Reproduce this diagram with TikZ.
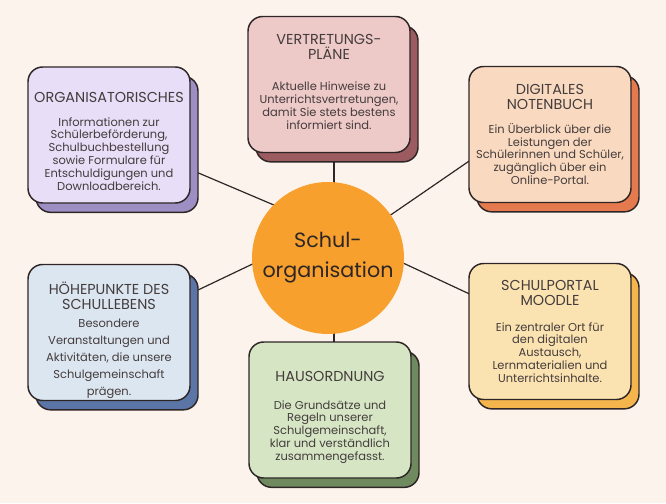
\documentclass[tikz,border=0pt]{standalone}
\usepackage{fontspec}
\setmainfont{Poppins}
\usetikzlibrary{shadows,calc}
\definecolor{paper}{HTML}{FCF4EC}
\definecolor{ink}{HTML}{2E2626}
\definecolor{txt}{HTML}{443C3C}
\definecolor{hubfill}{HTML}{F8A02D}
\definecolor{orgfront}{HTML}{E8DEF8}
\definecolor{orgback}{HTML}{9D8FC4}
\definecolor{vertfront}{HTML}{EDC9C8}
\definecolor{vertback}{HTML}{9B5B60}
\definecolor{digfront}{HTML}{F9DAC0}
\definecolor{digback}{HTML}{E57A4E}
\definecolor{hohfront}{HTML}{DCE6F1}
\definecolor{hohback}{HTML}{5B76A6}
\definecolor{hausfront}{HTML}{D6E6C5}
\definecolor{hausback}{HTML}{6F8A5E}
\definecolor{schulfront}{HTML}{FBE3B1}
\definecolor{schulback}{HTML}{F4B64C}
\pgfdeclarelayer{paperlayer}
\pgfdeclarelayer{links}
\pgfsetlayers{paperlayer,links,main}
\tikzset{
  card/.style={draw=ink, line width=1.1pt, rounded corners=11pt,
    minimum width=121.5pt, minimum height=102pt, fill=#1front,
    copy shadow={fill=#1back, draw=ink, line width=1.1pt,
      shadow xshift=6pt, shadow yshift=-7pt}},
  cardtitle/.style={font=\fontsize{10.8}{11.25}\selectfont, text=txt,
    align=center, inner sep=0pt, anchor=north},
  cardtext/.style={font=\fontsize{8.6}{9.6}\selectfont, text=txt,
    align=center, inner sep=0pt, anchor=north},
  link/.style={draw=ink, line width=0.9pt}
}
\begin{document}
\begin{tikzpicture}[x=0.75pt,y=-0.75pt]
\begin{pgfonlayer}{paperlayer}
\fill[paper] (0,0) rectangle (666,503);
\end{pgfonlayer}
\useasboundingbox (0,0) rectangle (666,503);
% Cards
\node[card=org] (org) at (109,135) {};
\node[card=vert] (vert) at (329,84.5) {};
\node[card=dig] (dig) at (550,134.5) {};
\node[card=hoh] (hoh) at (109,332.5) {};
\node[card=haus] (haus) at (330,410) {};
\node[card=schul] (schul) at (550,331.5) {};
% Center
\node[circle, fill=hubfill, minimum size=114pt, text=ink, align=center,
  font=\fontsize{15.5}{22.5}\selectfont] (hub) at (328,258) {Schul-\\organisation};
\coordinate (hubknot) at ($(hub.center)+(0,-30)$);
% Connectors
\begin{pgfonlayer}{links}
\draw[link] (org.center) -- (hubknot);
\draw[link] (hoh.center) -- (hubknot);
\draw[link] (schul.center) -- (hubknot);
\draw[link] (hub.center) -- ($(dig.center)+(0,-29)$);
\draw[link] ($(vert.center)+(5,0)$) -- ($(hub.center)+(6,0)$);
\draw[link] ($(hub.center)+(6,0)$) -- ($(haus.center)+(4,0)$);
\end{pgfonlayer}
% Titles
\node[cardtitle] (orgtitle) at (109,92) {ORGANISATORISCHES};
\node[cardtitle] (verttitle) at (329,34) {VERTRETUNGS-\\PLÄNE};
\node[cardtitle] (digtitle) at (550,84) {DIGITALES\\NOTENBUCH};
\node[cardtitle] (hohtitle) at (109,282) {HÖHEPUNKTE DES\\SCHULLEBENS};
\node[cardtitle] (haustitle) at (330,371) {HAUSORDNUNG};
\node[cardtitle] (schultitle) at (550,280) {SCHULPORTAL\\MOODLE};
% Texts
\node[cardtext] (orgtext) at (109,117) {Informationen zur\\Schülerbeförderung,\\Schulbuchbestellung\\sowie Formulare für\\Entschuldigungen und\\Downloadbereich.};
\node[cardtext] (verttext) at (329,82) {Aktuelle Hinweise zu\\Unterrichtsvertretungen,\\damit Sie stets bestens\\informiert sind.};
\node[cardtext] (digtext) at (550,123) {Ein Überblick über die\\Leistungen der\\Schülerinnen und Schüler,\\zugänglich über ein\\Online-Portal.};
\node[cardtext, font=\fontsize{8.6}{12.75}\selectfont] (hohtext) at (109,319) {Besondere\\Veranstaltungen und\\Aktivitäten, die unsere\\Schulgemeinschaft\\prägen.};
\node[cardtext] (haustext) at (330,400) {Die Grundsätze und\\Regeln unserer\\Schulgemeinschaft,\\klar und verständlich\\zusammengefasst.};
\node[cardtext] (schultext) at (550,322) {Ein zentraler Ort für\\den digitalen\\Austausch,\\Lernmaterialien und\\Unterrichtsinhalte.};
\end{tikzpicture}
\end{document}
